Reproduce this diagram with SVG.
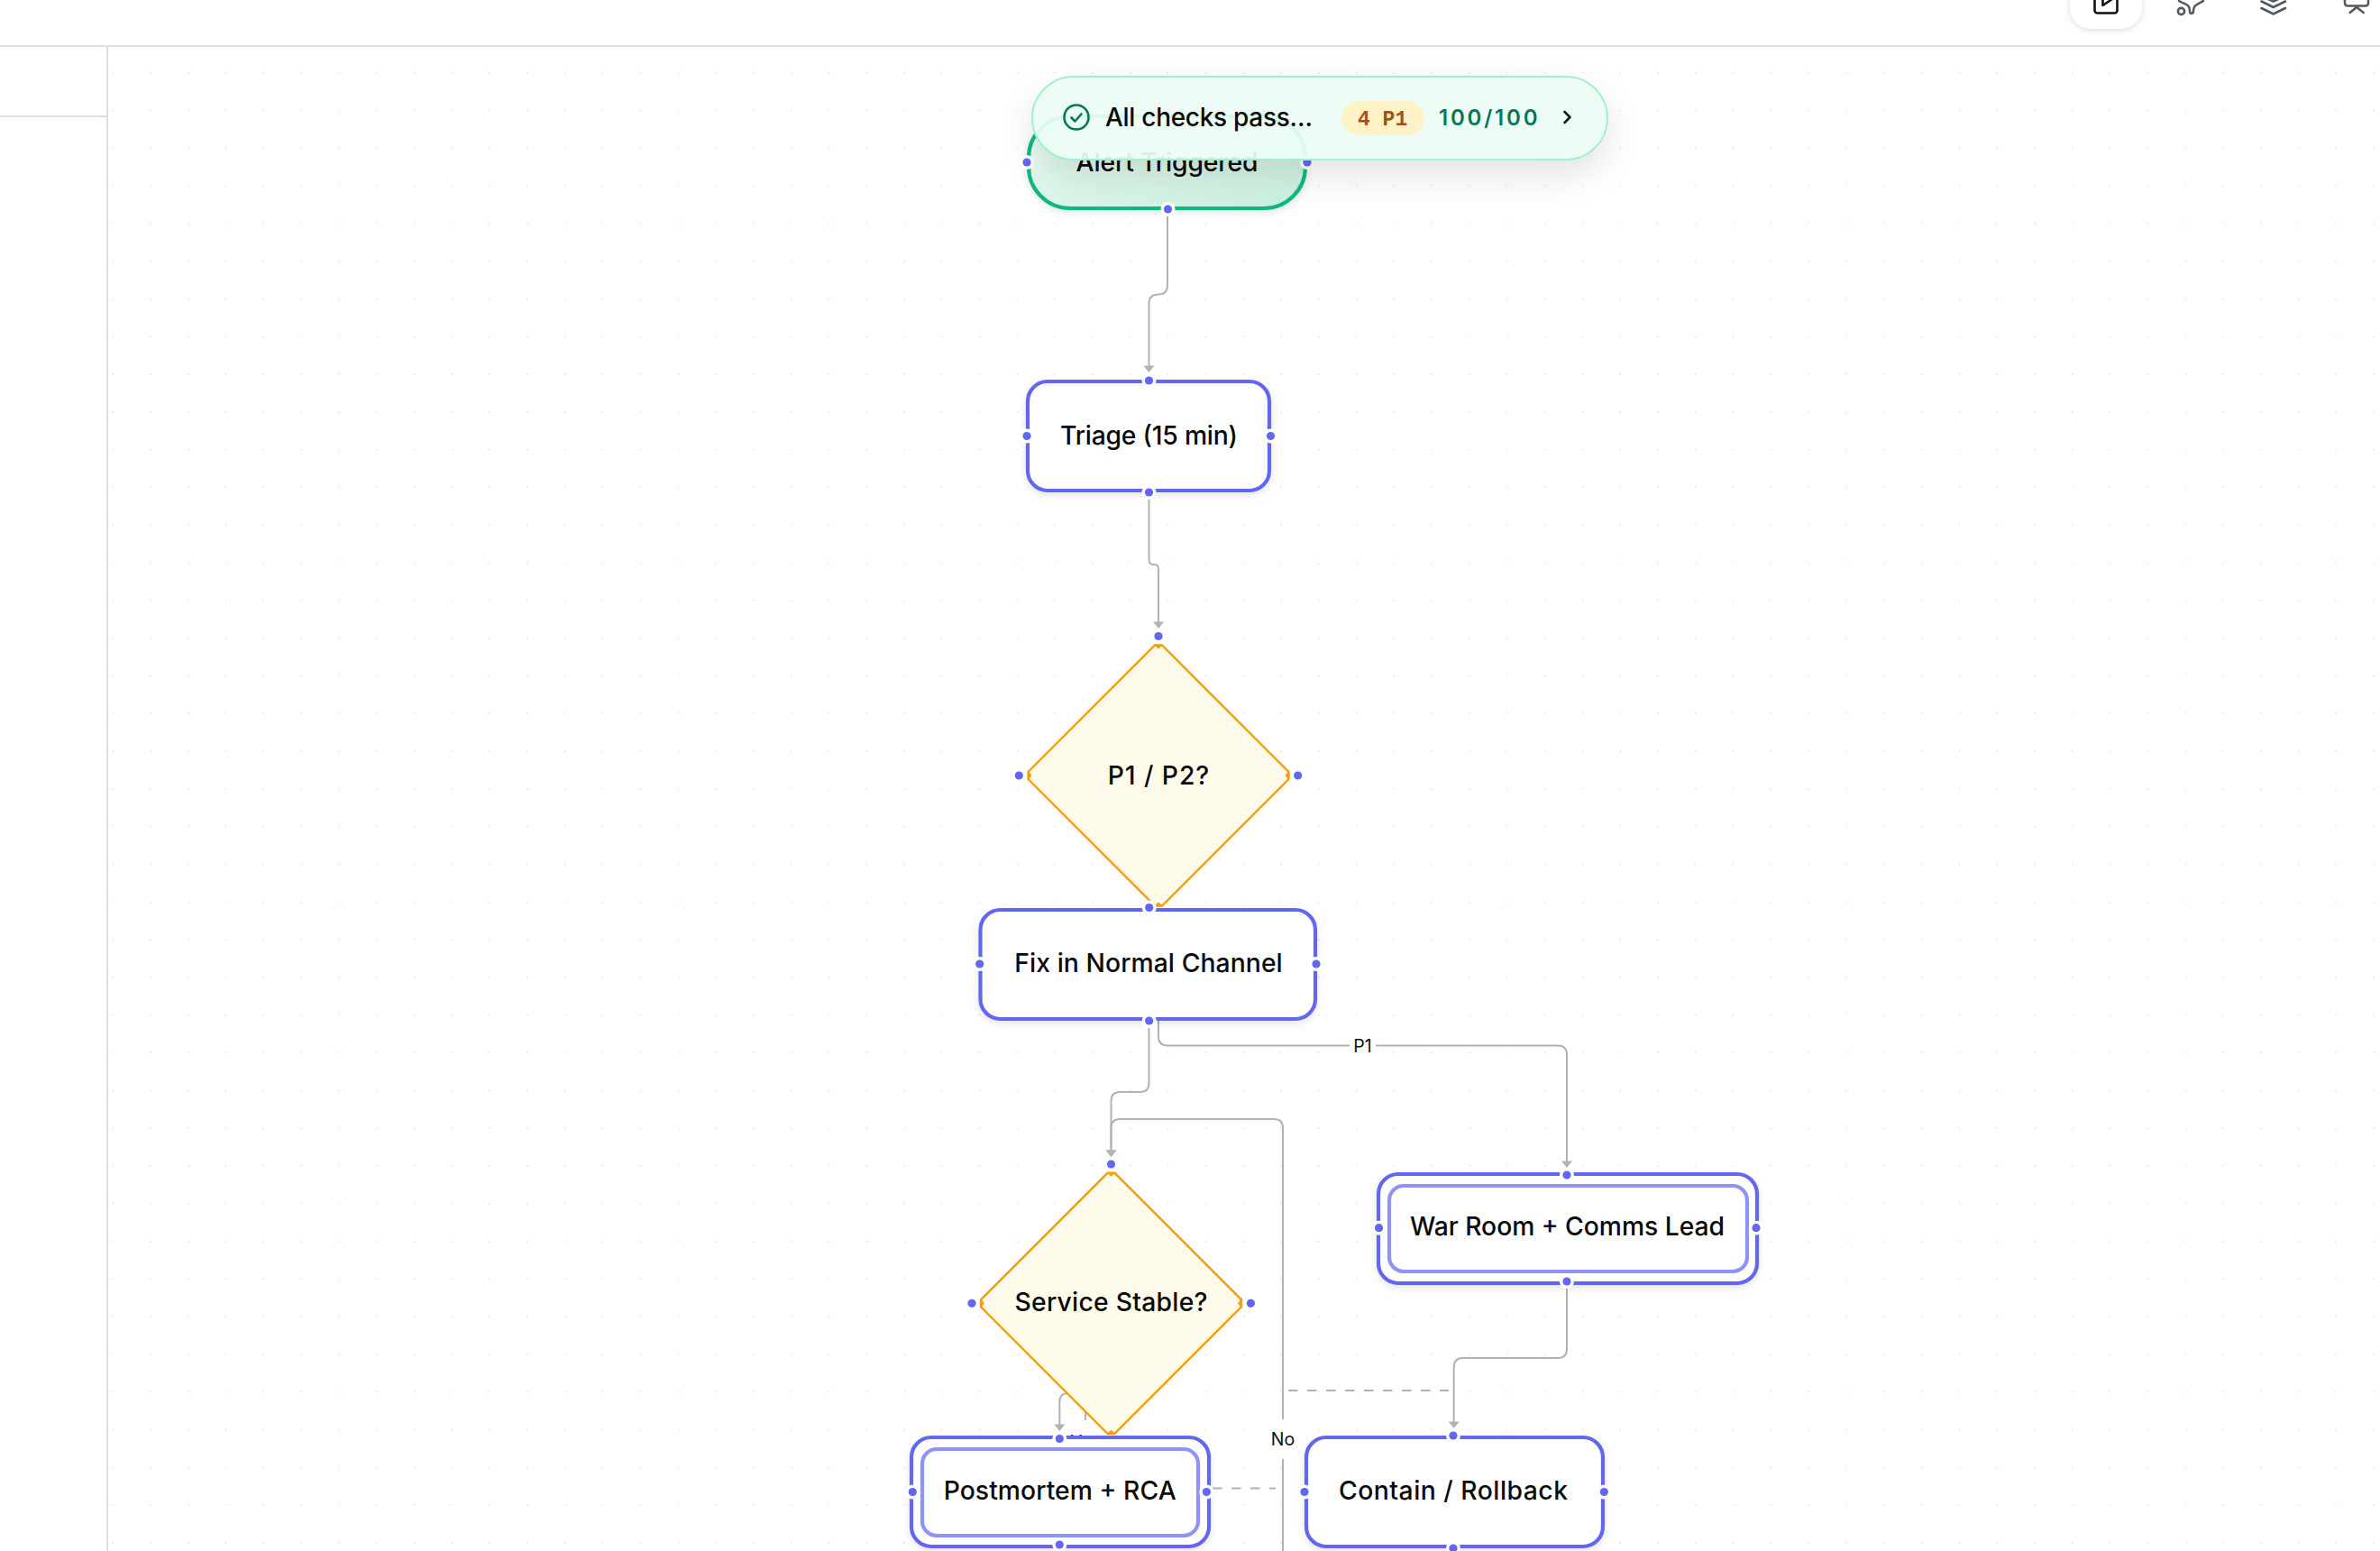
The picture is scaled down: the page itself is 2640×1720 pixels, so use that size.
<svg xmlns="http://www.w3.org/2000/svg" width="2640" height="1720" viewBox="0 0 2640 1720">
<style>
.edge{fill:none;stroke:#b1b1b7;stroke-width:2}
.dash{stroke-dasharray:10.5 10.5}
.box{fill:#fff;stroke:#6366f1;stroke-width:4.2}
.inner{fill:#fff;stroke:#8f92f6;stroke-width:4.2}
.dia{fill:#fffbeb;stroke:#f59e0b;stroke-width:2.4}
.tip{fill:#f59e0b}
.t{font-family:"Inter","Liberation Sans",sans-serif;font-size:28.3px;font-weight:450;fill:#0a0a0a;text-anchor:middle}
.lb{font-family:"Inter","Liberation Sans",sans-serif;font-size:19.5px;fill:#111;text-anchor:middle}
.halo{fill:#fff}
.h{fill:#6366f1}
.ic{fill:none;stroke:#555a60;stroke-width:2.6;stroke-linecap:round;stroke-linejoin:round}
.line{fill:#dde1e6}
</style>
<defs>
<pattern id="dots" patternUnits="userSpaceOnUse" x="104.3" y="59.8" width="41.8" height="41.8">
<rect x="19.9" y="19.9" width="2" height="2" rx="0.6" fill="#eaebee"/>
</pattern>
<marker id="arr" markerUnits="userSpaceOnUse" viewBox="-1 -7 10 14" refX="4.5" refY="0" markerWidth="10" markerHeight="14" orient="auto">
<path d="M0,-6 L7.5,0 L0,6 z" fill="#b1b1b7"/>
</marker>
<linearGradient id="green" x1="0" y1="0" x2="1" y2="1">
<stop offset="0" stop-color="#ecfdf5"/><stop offset="1" stop-color="#c9efdc"/>
</linearGradient>
<filter id="ns" x="-10%" y="-15%" width="120%" height="140%">
<feDropShadow dx="0" dy="3" stdDeviation="4" flood-color="#000" flood-opacity="0.1"/>
</filter>
<filter id="pillShadow" x="-15%" y="-70%" width="130%" height="260%">
<feGaussianBlur in="SourceAlpha" stdDeviation="22"/>
<feOffset dy="16"/>
<feComponentTransfer result="s"><feFuncA type="linear" slope="0.12"/></feComponentTransfer>
<feComposite in="s" in2="SourceAlpha" operator="out"/>
</filter>
<filter id="btn" x="-30%" y="-30%" width="160%" height="160%">
<feDropShadow dx="0" dy="2" stdDeviation="3" flood-color="#5a6a85" flood-opacity="0.22"/>
</filter>
<polygon id="dshape" points="-4,-144.5 4,-144.5 144.5,-4 144.5,4 4,144.5 -4,144.5 -144.5,4 -144.5,-4"/>
<path id="dtips" d="M-5,-145 H5 L0,-140.5 z M-5,145 H5 L0,140.5 z M-145,-6 V6 L-140.5,0 z M145,-6 V6 L140.5,0 z"/>
</defs>

<rect width="2640" height="1720" fill="#fff"/>
<rect x="120" y="52" width="2520" height="1668" fill="url(#dots)"/>

<g id="chrome">
<rect class="line" x="0" y="50" width="2640" height="2"/>
<rect class="line" x="118" y="52" width="2" height="1668"/>
<rect class="line" x="0" y="128" width="118" height="2"/>
<rect x="2296" y="-40" width="80" height="72" rx="24" fill="#fff" filter="url(#btn)"/>
<rect x="2323.5" y="-12" width="25" height="26.5" rx="3" fill="none" stroke="#111" stroke-width="2.6"/>
<path d="M2332.5,-6 V6 L2343,-1" fill="none" stroke="#111" stroke-width="2.6" stroke-linejoin="round"/>
<circle class="ic" cx="2419.5" cy="12.5" r="3.6"/>
<path class="ic" d="M2417,1 C2423,5 2429,4 2429,12 Q2429,15 2431,15 Q2433,15 2433,12 C2433,5 2438,5 2444,1"/>
<path class="ic" d="M2516,-1 L2521.7,1.5 L2527,-1 M2508.5,1.5 L2521.7,8 L2535,1.5 M2508.5,9 L2521.7,15.5 L2535,9"/>
<rect class="ic" x="2601" y="-14" width="26" height="20.5" rx="3"/>
<path class="ic" d="M2606.7,14 L2614,8 L2621.7,14"/>
</g>

<g id="connectors">
<path class="edge" marker-end="url(#arr)" d="M1295,232 V316 Q1295,326.5 1285,326.5 Q1274.5,326.5 1274.5,336.5 V410"/>
<path class="edge" marker-end="url(#arr)" d="M1274.5,546 V621 Q1274.5,626 1279.5,626 H1280 Q1285,626 1285,631 V694"/>
<path class="edge" marker-end="url(#arr)" d="M1274.5,1132 V1201 Q1274.5,1211 1264.5,1211 H1242.5 Q1232.5,1211 1232.5,1221 V1280"/>
<path class="edge" marker-end="url(#arr)" d="M1423,1720 V1251 Q1423,1241 1413,1241 H1242.5 Q1232.5,1241 1232.5,1251 V1280"/>
<path class="edge" marker-end="url(#arr)" d="M1285,1120 V1149.5 Q1285,1159.5 1295,1159.5 H1728 Q1738,1159.5 1738,1169.5 V1292"/>
<path class="edge" marker-end="url(#arr)" d="M1738,1421 V1496 Q1738,1506 1728,1506 H1622.7 Q1612.7,1506 1612.7,1516 V1581"/>
<path class="edge" marker-end="url(#arr)" d="M1195,1545 H1185 Q1175.3,1545 1175.3,1555 V1584"/>
<path class="edge" d="M1204,1575 V1555"/>
<path class="edge dash" d="M1345,1650.5 H1415"/>
<path class="edge dash" d="M1429,1542 H1607"/>
<rect x="1497" y="1143" width="29" height="32" fill="#fff"/>
<text class="lb" x="1511.5" y="1166.5">P1</text>
<rect x="1405" y="1574" width="36" height="44" fill="#fff"/>
<text class="lb" x="1423" y="1602.5">No</text>
<rect x="1184" y="1575" width="40" height="40" fill="#fff"/>
<text class="lb" x="1204" y="1606">Yes</text>
</g>

<g id="triage">
<rect class="box" filter="url(#ns)" x="1140" y="423" width="268" height="121" rx="22"/>
<text class="t" x="1274.5" y="492.5" textLength="197" lengthAdjust="spacing">Triage (15 min)</text>
<circle class="halo" cx="1274.5" cy="422" r="8"/><circle class="h" cx="1274.5" cy="422" r="4.6"/>
<circle class="halo" cx="1139" cy="483.5" r="8"/><circle class="h" cx="1139" cy="483.5" r="4.6"/>
<circle class="halo" cx="1409.5" cy="483.5" r="8"/><circle class="h" cx="1409.5" cy="483.5" r="4.6"/>
<circle class="halo" cx="1274.5" cy="546" r="8"/><circle class="h" cx="1274.5" cy="546" r="4.6"/>
</g>

<g id="decision-p1">
<g transform="translate(1285 860)"><use href="#dshape" class="dia"/><use href="#dtips" class="tip"/></g>
<text class="t" x="1285" y="869.5" textLength="112.5" lengthAdjust="spacing">P1 / P2?</text>
<circle class="h" cx="1285" cy="705.5" r="4.6"/>
<circle class="h" cx="1130.3" cy="860" r="4.6"/>
<circle class="h" cx="1439.7" cy="860" r="4.6"/>
</g>

<g id="fix-normal">
<rect class="box" filter="url(#ns)" x="1087.5" y="1009" width="371.5" height="121" rx="22"/>
<text class="t" x="1274" y="1078" textLength="297.5" lengthAdjust="spacing">Fix in Normal Channel</text>
<circle class="halo" cx="1274.7" cy="1006.5" r="8"/><circle class="h" cx="1274.7" cy="1006.5" r="4.6"/>
<circle class="halo" cx="1086.7" cy="1069" r="8"/><circle class="h" cx="1086.7" cy="1069" r="4.6"/>
<circle class="halo" cx="1460" cy="1069" r="8"/><circle class="h" cx="1460" cy="1069" r="4.6"/>
<circle class="halo" cx="1274.7" cy="1132" r="8"/><circle class="h" cx="1274.7" cy="1132" r="4.6"/>
</g>

<g id="decision-stable">
<g transform="translate(1232.5 1445.3)"><use href="#dshape" class="dia"/><use href="#dtips" class="tip"/></g>
<text class="t" x="1232.5" y="1453.5" textLength="214" lengthAdjust="spacing">Service Stable?</text>
<circle class="h" cx="1232.5" cy="1291" r="4.6"/>
<circle class="h" cx="1078" cy="1445.3" r="4.6"/>
<circle class="h" cx="1387.4" cy="1445.3" r="4.6"/>
</g>

<g id="war-room">
<rect class="box" filter="url(#ns)" x="1529" y="1302" width="420" height="121" rx="22"/>
<rect class="inner" x="1541" y="1315" width="397" height="95" rx="16"/>
<text class="t" x="1738.5" y="1369.5" textLength="349" lengthAdjust="spacing">War Room + Comms Lead</text>
<circle class="halo" cx="1738" cy="1303" r="8"/><circle class="h" cx="1738" cy="1303" r="4.6"/>
<circle class="halo" cx="1529.5" cy="1361.7" r="8"/><circle class="h" cx="1529.5" cy="1361.7" r="4.6"/>
<circle class="halo" cx="1948" cy="1361.7" r="8"/><circle class="h" cx="1948" cy="1361.7" r="4.6"/>
<circle class="halo" cx="1738" cy="1421" r="8"/><circle class="h" cx="1738" cy="1421" r="4.6"/>
</g>

<g id="postmortem">
<rect class="box" filter="url(#ns)" x="1011" y="1594" width="330" height="121" rx="22"/>
<rect class="inner" x="1023" y="1607" width="306" height="96" rx="16"/>
<text class="t" x="1175.7" y="1663" textLength="258" lengthAdjust="spacing">Postmortem + RCA</text>
<circle class="halo" cx="1175.3" cy="1595.5" r="8"/><circle class="h" cx="1175.3" cy="1595.5" r="4.6"/>
<circle class="halo" cx="1012.3" cy="1654.5" r="8"/><circle class="h" cx="1012.3" cy="1654.5" r="4.6"/>
<circle class="halo" cx="1338.3" cy="1654.5" r="8"/><circle class="h" cx="1338.3" cy="1654.5" r="4.6"/>
<circle class="halo" cx="1175.3" cy="1713" r="8"/><circle class="h" cx="1175.3" cy="1713" r="4.6"/>
</g>

<g id="contain">
<rect class="box" filter="url(#ns)" x="1449" y="1594" width="329" height="121" rx="22"/>
<text class="t" x="1612" y="1663" textLength="254" lengthAdjust="spacing">Contain / Rollback</text>
<circle class="halo" cx="1612" cy="1592" r="8"/><circle class="h" cx="1612" cy="1592" r="4.6"/>
<circle class="halo" cx="1447" cy="1654.5" r="8"/><circle class="h" cx="1447" cy="1654.5" r="4.6"/>
<circle class="halo" cx="1779.3" cy="1654.5" r="8"/><circle class="h" cx="1779.3" cy="1654.5" r="4.6"/>
<circle class="halo" cx="1612" cy="1717" r="8"/><circle class="h" cx="1612" cy="1717" r="4.6"/>
</g>

<g id="alert">
<rect x="1141" y="129" width="307" height="102" rx="46" fill="url(#green)" stroke="#10b981" stroke-width="4.2" filter="url(#ns)"/>
<text class="t" x="1294.5" y="189.5" textLength="202" lengthAdjust="spacing">Alert Triggered</text>
<circle class="halo" cx="1139" cy="180" r="8"/><circle class="h" cx="1139" cy="180" r="4.6"/>
<circle class="halo" cx="1450" cy="180" r="8"/><circle class="h" cx="1450" cy="180" r="4.6"/>
<circle class="halo" cx="1295.5" cy="232" r="8"/><circle class="h" cx="1295.5" cy="232" r="4.6"/>
</g>

<g id="status-pill">
<rect x="1145" y="85" width="638" height="92" rx="46" fill="#000" filter="url(#pillShadow)"/>
<rect x="1145" y="85" width="638" height="92" rx="46" fill="#ecfdf5" fill-opacity="0.93" stroke="#a0f0cd" stroke-width="2"/>
<circle cx="1194" cy="130" r="13.5" fill="none" stroke="#047857" stroke-width="2.6"/>
<path d="M1188.5,130.5 L1192.5,134.5 L1199.5,126.5" fill="none" stroke="#047857" stroke-width="2.6" stroke-linecap="round" stroke-linejoin="round"/>
<text x="1226" y="140" font-family="Inter,'Liberation Sans',sans-serif" font-size="28" font-weight="450" fill="#0a0a0a" textLength="230" lengthAdjust="spacing">All checks pass…</text>
<rect x="1488" y="112" width="92" height="38" rx="19" fill="#fef3c7"/>
<text x="1506" y="139" font-family="'Liberation Mono',monospace" font-weight="700" font-size="23" fill="#a9500f">4 P1</text>
<text x="1596" y="139" font-family="Inter,'Liberation Sans',sans-serif" font-weight="600" font-size="24" letter-spacing="2.8" fill="#047857">100/100</text>
<path d="M1735.5,124 L1741.5,130 L1735.5,136" fill="none" stroke="#1a1a1a" stroke-width="2.6" stroke-linecap="round" stroke-linejoin="round"/>
</g>
</svg>
